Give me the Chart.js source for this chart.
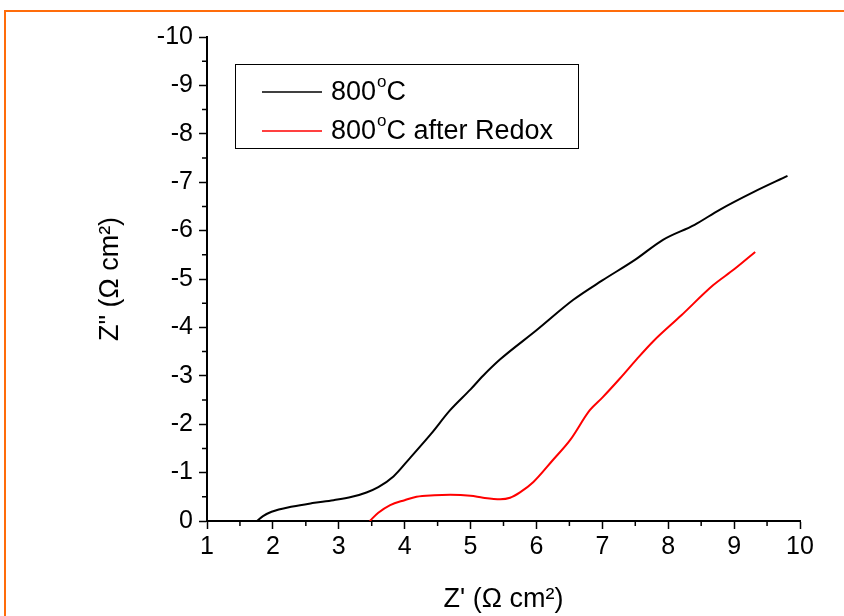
<!DOCTYPE html>
<html>
<head>
<meta charset="utf-8">
<script src="https://cdn.jsdelivr.net/npm/chart.js@4/dist/chart.umd.min.js"></script>
<style>
  html, body { margin: 0; padding: 0; background: #fff; }
  #wrap { position: relative; width: 844px; height: 616px; overflow: hidden; }
  #frame { position: absolute; left: 4px; top: 10px; width: 900px; height: 700px; border: 2px solid #ff6c0a; box-sizing: border-box; }
  #impedanceChart { position: absolute; left: 0; top: 0; }
</style>
</head>
<body>
<div id="wrap">
  <div id="frame"></div>
  <canvas id="impedanceChart" width="844" height="616"></canvas>
</div>
<script>
// Nyquist plot data (Z' and Z'' in ohm cm2)
const seriesLabels = ['800°C', '800°C after Redox'];

const zReal800 = [1.76, 1.85, 1.98, 2.3, 2.6, 2.92, 3.2, 3.42, 3.6, 3.83, 4.08, 4.4, 4.69, 5.0, 5.19, 5.45, 6.0, 6.56, 7.0, 7.5, 7.92, 8.4, 8.78, 9.3, 9.81];
const zImag800 = [0, -0.1, -0.19, -0.3, -0.37, -0.43, -0.5, -0.59, -0.7, -0.92, -1.3, -1.8, -2.29, -2.72, -3.0, -3.34, -3.94, -4.57, -4.97, -5.4, -5.81, -6.12, -6.43, -6.8, -7.13];

const zRealRedox = [3.47, 3.6, 3.78, 4.0, 4.18, 4.45, 4.69, 5.0, 5.19, 5.45, 5.6, 5.75, 5.95, 6.25, 6.51, 6.81, 7.0, 7.27, 7.52, 7.77, 8.2, 8.68, 9.0, 9.32];
const zImagRedox = [0, -0.17, -0.33, -0.43, -0.5, -0.53, -0.54, -0.52, -0.48, -0.45, -0.48, -0.59, -0.8, -1.26, -1.67, -2.29, -2.55, -2.95, -3.34, -3.71, -4.25, -4.87, -5.2, -5.56];

const xTicks = [1, 2, 3, 4, 5, 6, 7, 8, 9, 10];
const yTicks = [0, -1, -2, -3, -4, -5, -6, -7, -8, -9, -10];

const FONT = "'Liberation Sans', Arial, sans-serif";

function toPoints(xs, ys) {
    return xs.map(function(x, i) { return { x: x, y: ys[i] }; });
}

// small unlabeled ticks halfway between the labeled ones
const minorTicks = {
    id: 'minorTicks',
    afterDraw: function(chart) {
        const c = chart.ctx;
        const xs = chart.scales.x, ys = chart.scales.y;
        const area = chart.chartArea;
        c.save();
        c.strokeStyle = '#000';
        c.lineWidth = 1.5;
        c.beginPath();
        for (let i = 0; i < xTicks.length - 1; i++) {
            const px = xs.getPixelForValue((xTicks[i] + xTicks[i + 1]) / 2);
            c.moveTo(px, area.bottom);
            c.lineTo(px, area.bottom + 5);
        }
        for (let i = 0; i < yTicks.length - 1; i++) {
            const py = ys.getPixelForValue((yTicks[i] + yTicks[i + 1]) / 2);
            c.moveTo(area.left, py);
            c.lineTo(area.left - 5, py);
        }
        c.stroke();
        c.restore();
    }
};

// legend box inside the plot, with a raised "o" for the degree mark
function drawLabel(c, text, x, y) {
    const parts = text.split('°');
    c.font = '27px ' + FONT;
    c.fillText(parts[0], x, y);
    x += c.measureText(parts[0]).width;
    if (parts.length > 1) {
        c.font = '17px ' + FONT;
        c.fillText('o', x + 1, y - 11);
        x += c.measureText('o').width + 1;
        c.font = '27px ' + FONT;
        c.fillText(parts[1], x, y);
    }
}

const boxLegend = {
    id: 'boxLegend',
    afterDraw: function(chart) {
        const c = chart.ctx;
        c.save();
        c.strokeStyle = '#000';
        c.lineWidth = 1;
        c.strokeRect(235.5, 64.5, 343, 84);
        const rows = [92, 131];
        chart.data.datasets.forEach(function(ds, i) {
            c.strokeStyle = ds.borderColor;
            c.lineWidth = 1.5;
            c.beginPath();
            c.moveTo(262, rows[i]);
            c.lineTo(322, rows[i]);
            c.stroke();
            c.fillStyle = '#000';
            c.textBaseline = 'middle';
            drawLabel(c, ds.label, 331, rows[i] + 1);
        });
        c.restore();
    }
};

document.addEventListener('DOMContentLoaded', function() {
    const ctx = document.getElementById('impedanceChart');

    new Chart(ctx, {
        type: 'scatter',
        data: {
            datasets: [{
                label: seriesLabels[0],
                data: toPoints(zReal800, zImag800),
                showLine: true,
                borderColor: '#000000',
                borderWidth: 2,
                pointRadius: 0,
                cubicInterpolationMode: 'monotone'
            }, {
                label: seriesLabels[1],
                data: toPoints(zRealRedox, zImagRedox),
                showLine: true,
                borderColor: '#ff0000',
                borderWidth: 2,
                pointRadius: 0,
                cubicInterpolationMode: 'monotone'
            }]
        },
        options: {
            responsive: false,
            animation: false,
            layout: { padding: { top: 37, right: 44, left: 0, bottom: 0 } },
            scales: {
                x: {
                    type: 'linear',
                    min: 1,
                    max: 10,
                    afterFit: function(scale) { scale.height = 95; },
                    afterBuildTicks: function(scale) {
                        scale.ticks = xTicks.map(function(v) { return { value: v }; });
                    },
                    grid: { drawOnChartArea: false, tickLength: 8, tickWidth: 1.5, tickColor: '#000' },
                    border: { color: '#000', width: 2 },
                    ticks: { color: '#000', font: { family: FONT, size: 25 }, padding: 3, maxRotation: 0 },
                    title: {
                        display: true,
                        text: "Z' (Ω cm²)",
                        color: '#000',
                        font: { family: FONT, size: 27 },
                        padding: { top: 0, bottom: 0 }
                    }
                },
                y: {
                    type: 'linear',
                    min: -10,
                    max: 0,
                    reverse: true,
                    afterFit: function(scale) { scale.width = 207; },
                    afterBuildTicks: function(scale) {
                        scale.ticks = yTicks.map(function(v) { return { value: v }; });
                    },
                    grid: { drawOnChartArea: false, tickLength: 8, tickWidth: 1.5, tickColor: '#000' },
                    border: { color: '#000', width: 2 },
                    ticks: { color: '#000', font: { family: FONT, size: 25 }, padding: 6 },
                    title: {
                        display: true,
                        text: 'Z" (Ω cm²)',
                        color: '#000',
                        font: { family: FONT, size: 27 },
                        padding: { top: 94, bottom: 0 }
                    }
                }
            },
            plugins: {
                legend: { display: false },
                tooltip: { enabled: false }
            }
        },
        plugins: [minorTicks, boxLegend]
    });
});
</script>
</body>
</html>
